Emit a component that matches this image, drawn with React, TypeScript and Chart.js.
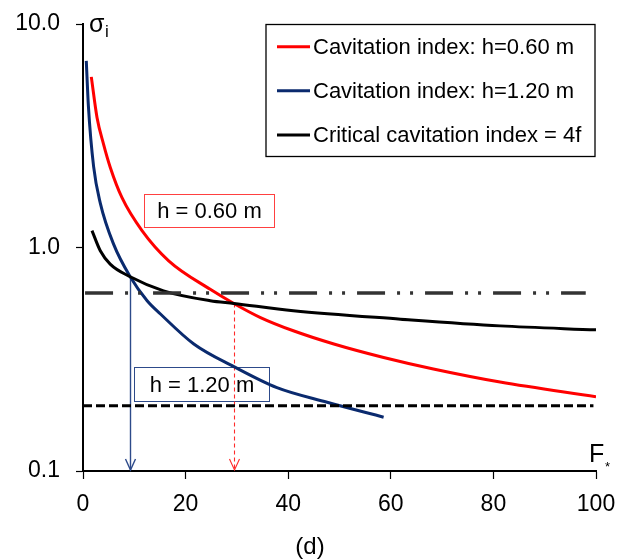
import React, { useEffect, useRef } from "react";
import { Chart, registerables } from "chart.js";

Chart.register(...registerables);

const FONT = "'Liberation Sans', Arial, Helvetica, sans-serif";

// ---- data ----
const redF = [1.62, 2.73, 4.0, 5.32, 7.6, 11.5, 16.7, 24.8, 29.4, 34.6, 41.0, 48.9, 58.6, 68.3, 81.3, 100];
const redSigma = [5.8, 3.82, 2.9, 2.28, 1.67, 1.19, 0.872, 0.65, 0.562, 0.486, 0.424, 0.37, 0.322, 0.286, 0.25, 0.215];

const blueF = [0.64, 1.05, 2.07, 3.37, 5.96, 9.2, 12.5, 15.1, 21.6, 29.4, 37.8, 47.6, 58.6];
const blueSigma = [6.84, 4.3, 2.3, 1.58, 1.035, 0.74, 0.578, 0.504, 0.37, 0.293, 0.236, 0.203, 0.174];

const critF = [1.75, 3.37, 5.3, 9.2, 15.7, 24.8, 29.4, 41.0, 61.9, 81.3, 100];
const critSigma = [1.19, 0.967, 0.843, 0.74, 0.64, 0.578, 0.562, 0.521, 0.478, 0.446, 0.428];

const seriesLabels = [
  "Cavitation index: h=0.60 m",
  "Cavitation index: h=1.20 m",
  "Critical cavitation index = 4f",
];
const seriesColors = ["#ff0000", "#0a2a6e", "#000000"];

const xTicks = [0, 20, 40, 60, 80, 100];
const yTicks = [0.1, 1, 10];

const dashDotLevel = 0.625;
const dashDotF = [0.4, 98];
const dashedLevel = 0.196;
const dashedF = [0, 99.5];

const arrowF = [9.2, 29.4];
const arrowTop = [0.74, 0.562];
const arrowColors = ["#2d4a8a", "#ff2a2a"];

const boxLabels = ["h = 0.60 m", "h = 1.20 m"];
const boxF = [
  [11.95, 37.2],
  [10.0, 36.2],
];
const boxSigma = [
  [1.744, 1.229],
  [0.292, 0.206],
];
const boxColors = ["#ff4040", "#2d4a8a"];

const toPts = (xs: number[], ys: number[]) => xs.map((x, i) => ({ x, y: ys[i] }));

const overlayPlugin = {
  id: "overlay",
  beforeDatasetsDraw(chart: any) {
    const { ctx } = chart;
    const x = chart.scales.x;
    const y = chart.scales.y;
    ctx.save();
    boxLabels.forEach((t, i) => {
      const x0 = Math.round(x.getPixelForValue(boxF[i][0])) + 0.5;
      const x1 = Math.round(x.getPixelForValue(boxF[i][1])) + 0.5;
      const y0 = Math.round(y.getPixelForValue(boxSigma[i][0])) + 0.5;
      const y1 = Math.round(y.getPixelForValue(boxSigma[i][1])) + 0.5;
      ctx.strokeStyle = boxColors[i];
      ctx.lineWidth = 1;
      ctx.setLineDash([]);
      ctx.strokeRect(x0, y0, x1 - x0, y1 - y0);
      ctx.fillStyle = "#000";
      ctx.font = `22px ${FONT}`;
      ctx.textAlign = "center";
      ctx.textBaseline = "middle";
      ctx.fillText(t, (x0 + x1) / 2, (y0 + y1) / 2 + 1);
    });
    arrowF.forEach((f, i) => {
      const xp = Math.round(x.getPixelForValue(f)) + 0.5;
      const yt = y.getPixelForValue(arrowTop[i]);
      const yb = y.getPixelForValue(0.1) - 1;
      ctx.strokeStyle = arrowColors[i];
      ctx.lineWidth = i === 0 ? 1.4 : 1.1;
      ctx.setLineDash(i === 0 ? [] : [4, 3]);
      ctx.beginPath();
      ctx.moveTo(xp, yt);
      ctx.lineTo(xp, yb);
      ctx.stroke();
      ctx.setLineDash([]);
      ctx.beginPath();
      ctx.moveTo(xp - 5, yb - 11);
      ctx.lineTo(xp, yb);
      ctx.lineTo(xp + 5, yb - 11);
      ctx.stroke();
    });
    ctx.restore();
  },
  afterDraw(chart: any) {
    const { ctx } = chart;
    ctx.save();
    const lx0 = 266, ly0 = 24.5, lx1 = 595, ly1 = 156.5;
    ctx.strokeStyle = "#000";
    ctx.lineWidth = 1.3;
    ctx.strokeRect(lx0, ly0, lx1 - lx0, ly1 - ly0);
    const rows = [46.7, 90.7, 135];
    seriesLabels.forEach((lab, i) => {
      ctx.strokeStyle = seriesColors[i];
      ctx.lineWidth = 3;
      ctx.beginPath();
      ctx.moveTo(277, rows[i]);
      ctx.lineTo(310, rows[i]);
      ctx.stroke();
      ctx.fillStyle = "#000";
      ctx.font = `22px ${FONT}`;
      ctx.textAlign = "left";
      ctx.textBaseline = "middle";
      ctx.fillText(lab, 313, rows[i] + 1);
    });
    ctx.fillStyle = "#000";
    ctx.textAlign = "left";
    ctx.textBaseline = "alphabetic";
    ctx.font = `25px ${FONT}`;
    ctx.fillText("σ", 89, 32);
    ctx.font = `17px ${FONT}`;
    ctx.fillText("i", 105, 37);
    ctx.font = `25px ${FONT}`;
    ctx.fillText("F", 589, 462);
    ctx.font = `13px ${FONT}`;
    ctx.fillText("*", 605, 471);
    ctx.font = `24px ${FONT}`;
    ctx.textAlign = "center";
    ctx.fillText("(d)", 310, 554);
    ctx.restore();
  },
};

export default function App() {
  const ref = useRef<HTMLCanvasElement | null>(null);
  useEffect(() => {
    if (!ref.current) return;
    const lineDs = (label: string, data: any[], color: string) => ({
      label,
      data,
      borderColor: color,
      backgroundColor: color,
      borderWidth: 3,
      pointRadius: 0,
      fill: false,
      cubicInterpolationMode: "monotone" as const,
    });
    const chart = new Chart(ref.current, {
      type: "line",
      data: {
        datasets: [
          {
            label: "dash-dot",
            data: toPts(dashDotF, [dashDotLevel, dashDotLevel]),
            borderColor: "#333333",
            borderWidth: 3.5,
            borderDash: [28, 12, 3, 10, 3, 12],
            pointRadius: 0,
            fill: false,
          },
          {
            label: "dashed",
            data: toPts(dashedF, [dashedLevel, dashedLevel]),
            borderColor: "#000000",
            borderWidth: 3,
            borderDash: [9, 4],
            pointRadius: 0,
            fill: false,
          },
          lineDs(seriesLabels[2], toPts(critF, critSigma), seriesColors[2]),
          lineDs(seriesLabels[0], toPts(redF, redSigma), seriesColors[0]),
          lineDs(seriesLabels[1], toPts(blueF, blueSigma), seriesColors[1]),
        ],
      },
      options: {
        responsive: false,
        animation: false,
        devicePixelRatio: 1,
        layout: { padding: { top: 24, right: 31, left: 0, bottom: 0 } },
        plugins: {
          legend: { display: false },
          tooltip: { enabled: false },
        },
        scales: {
          x: {
            type: "linear",
            min: 0,
            max: 100,
            afterBuildTicks: (s: any) => {
              s.ticks = xTicks.map((v) => ({ value: v }));
            },
            border: { display: true, color: "#000", width: 2 },
            grid: { drawOnChartArea: false, drawTicks: true, tickLength: 8, tickColor: "#000", tickWidth: 1.2 },
            ticks: { color: "#000", font: { family: FONT, size: 23 }, padding: 12, maxRotation: 0, autoSkip: false },
            afterFit: (s: any) => {
              s.height = 89;
              s.paddingLeft = 0;
              s.paddingRight = 0;
            },
          },
          y: {
            type: "logarithmic",
            min: 0.1,
            max: 10,
            afterBuildTicks: (s: any) => {
              s.ticks = yTicks.map((v) => ({ value: v }));
            },
            border: { display: true, color: "#000", width: 2 },
            grid: { drawOnChartArea: false, drawTicks: true, tickLength: 7, tickColor: "#000", tickWidth: 1.2 },
            ticks: {
              color: "#000",
              font: { family: FONT, size: 23 },
              padding: 16,
              autoSkip: false,
              callback: (v: any) => Number(v).toFixed(1),
            },
            afterFit: (s: any) => {
              s.width = 83;
              s.paddingTop = 0;
              s.paddingBottom = 0;
            },
          },
        },
      },
      plugins: [overlayPlugin],
    });
    return () => chart.destroy();
  }, []);
  return (
    <div style={{ position: "absolute", left: 0, top: 0, width: 627, height: 560, background: "#fff" }}>
      <canvas ref={ref} width={627} height={560} style={{ width: 627, height: 560, display: "block" }} />
    </div>
  );
}
